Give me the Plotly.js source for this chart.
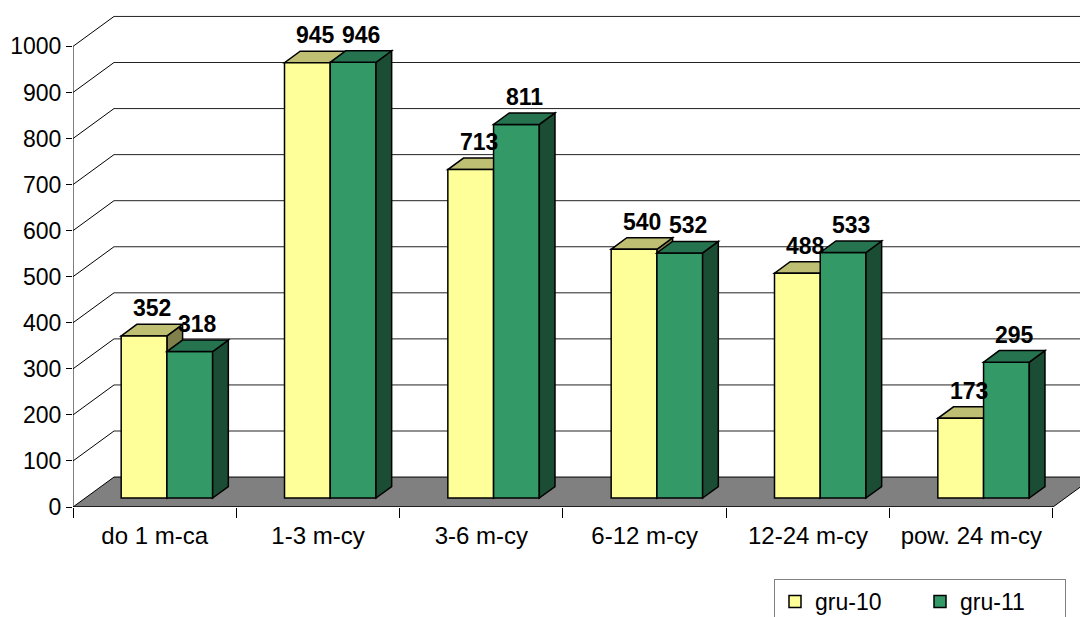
<!DOCTYPE html>
<html>
<head>
<meta charset="utf-8">
<script src="https://cdn.plot.ly/plotly-3.0.1.min.js"></script>
<style>
  body { margin: 0; background: #fff; }
  #chart { width: 1080px; height: 617px; }
</style>
</head>
<body>
<div id="chart"></div>
<script>
const categories = ['do 1 m-ca', '1-3 m-cy', '3-6 m-cy', '6-12 m-cy', '12-24 m-cy', 'pow. 24 m-cy'];
const gru10 = [352, 945, 713, 540, 488, 173];
const gru11 = [318, 946, 811, 532, 533, 295];
const yTicks = [0, 100, 200, 300, 400, 500, 600, 700, 800, 900, 1000];

// fake 3d: depth of the floor and of the bars, in axis units
const DX = 0.251, DY = 65;        // floor / back wall offset
const FX = 0.075, FY = 19.5;      // front plane of the bars
const BX = 0.096, BY = 25;        // bar depth
const W = 0.28;                   // bar width
const XMAX = -0.5 + 1007 / 163.33;
const YMAX = 1079;

const font = 'Liberation Sans, Arial, sans-serif';
const idx = categories.map((c, i) => i);

const series = [
    {name: 'gru-10', values: gru10, front: '#FFFF99', top: '#BFBF73', side: '#80804D', offset: FX - W},
    {name: 'gru-11', values: gru11, front: '#339966', top: '#267350', side: '#1A4D33', offset: FX}
];

const traces = series.map(s => ({
    type: 'bar',
    name: s.name,
    x: idx,
    y: s.values,
    base: FY,
    width: W,
    offset: s.offset,
    marker: {color: s.front, line: {color: '#000', width: 1.5}},
    hoverinfo: 'skip'
}));

const shapes = [];
const line = {color: '#000', width: 1};

// floor
shapes.push({
    type: 'path', xref: 'x', yref: 'y', layer: 'below',
    path: `M-0.5,0 L5.5,0 L${5.5 + DX},${DY} L${-0.5 + DX},${DY} Z`,
    fillcolor: '#808080', line: line
});
// back wall grid
for (const v of yTicks) {
    if (v === 0) continue;
    shapes.push({type: 'line', xref: 'x', yref: 'y', layer: 'below',
        x0: -0.5, y0: v, x1: -0.5 + DX, y1: v + DY, line: line});
    shapes.push({type: 'line', xref: 'x', yref: 'y', layer: 'below',
        x0: -0.5 + DX, y0: v + DY, x1: XMAX, y1: v + DY, line: {color: '#222', width: 1}});
}
// axis lines
shapes.push({type: 'line', xref: 'x', yref: 'y', x0: -0.5, y0: 0, x1: -0.5, y1: 1000, line: line});
shapes.push({type: 'line', xref: 'x', yref: 'y', x0: -0.5, y0: 0, x1: 5.5, y1: 0, line: line});

// top and side faces; yellow ones go under the traces so the green front covers them
const annotations = [];
series.forEach((s, k) => {
    s.values.forEach((v, i) => {
        const xl = i + s.offset, xr = xl + W, yt = FY + v;
        const layer = k === 0 ? 'below' : 'above';
        const edge = {color: '#000', width: 1.5};
        shapes.push({type: 'path', xref: 'x', yref: 'y', layer: layer,
            path: `M${xr},${FY} L${xr + BX},${FY + BY} L${xr + BX},${yt + BY} L${xr},${yt} Z`,
            fillcolor: s.side, line: edge});
        shapes.push({type: 'path', xref: 'x', yref: 'y', layer: layer,
            path: `M${xl},${yt} L${xr},${yt} L${xr + BX},${yt + BY} L${xl + BX},${yt + BY} Z`,
            fillcolor: s.top, line: edge});
        annotations.push({
            xref: 'x', yref: 'y', x: xl + W / 2 + BX / 2, y: yt + BY,
            xanchor: 'center', yanchor: 'bottom', yshift: 1, showarrow: false,
            text: String(v), font: {family: font, size: 23, color: '#000', weight: 'bold'}
        });
    });
});

const layout = {
    width: 1080,
    height: 617,
    margin: {l: 73, r: 0, t: 10, b: 110},
    paper_bgcolor: '#fff',
    plot_bgcolor: '#fff',
    font: {family: font, size: 23, color: '#000'},
    barmode: 'overlay',
    showlegend: true,
    legend: {
        orientation: 'h', xref: 'container', yref: 'container',
        x: 774 / 1080, y: 1 - 579 / 617, xanchor: 'left', yanchor: 'top',
        bordercolor: '#808080', borderwidth: 1, entrywidth: 100,
        font: {family: font, size: 23}
    },
    xaxis: {
        type: 'linear', range: [-0.5, XMAX], fixedrange: true,
        tickmode: 'array', tickvals: idx, ticktext: categories, ticks: '',
        tickfont: {size: 24}, ticklabelstandoff: 12,
        minor: {tickmode: 'array', tickvals: [-0.5, 0.5, 1.5, 2.5, 3.5, 4.5, 5.5],
            ticks: 'outside', ticklen: 10, tickcolor: '#000', showgrid: false},
        showgrid: false, zeroline: false, showline: false
    },
    yaxis: {
        range: [0, YMAX], fixedrange: true,
        tickmode: 'array', tickvals: yTicks, ticks: 'outside', ticklen: 6, tickcolor: '#000',
        tickfont: {size: 23}, showgrid: false, zeroline: false, showline: false
    },
    shapes: shapes,
    annotations: annotations
};

Plotly.newPlot('chart', traces, layout, {staticPlot: true});
</script>
</body>
</html>
